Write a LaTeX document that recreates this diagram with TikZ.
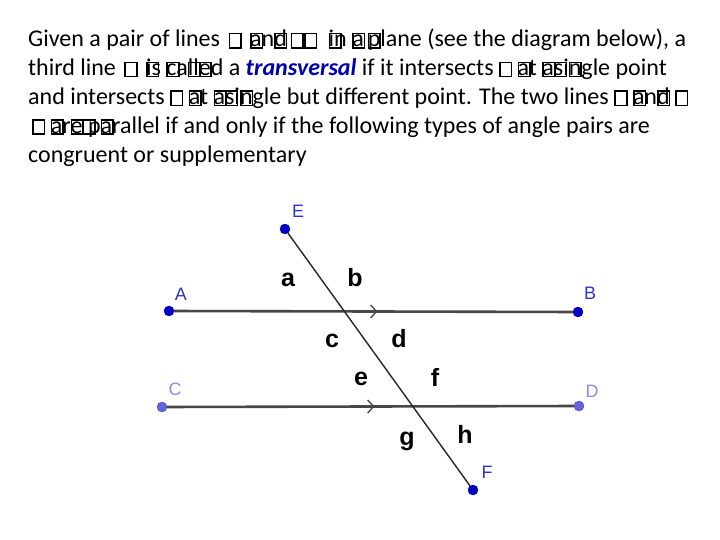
\documentclass[tikz,border=0pt]{standalone}
\usepackage{fontspec}
\setmainfont{Carlito}
\newfontfamily\geofont{Liberation Sans}
\usetikzlibrary{positioning,decorations.markings,arrows.meta}

\definecolor{ptblue}{RGB}{0,0,200}
\definecolor{ptlight}{RGB}{100,100,225}
\definecolor{lblblue}{RGB}{50,50,205}
\definecolor{lbllight}{RGB}{140,140,230}
\definecolor{linegray}{RGB}{70,70,70}
\definecolor{transblue}{RGB}{0,0,175}

% missing-glyph boxes of the text
\newcommand\gbox{\begingroup\setlength\fboxsep{0pt}\setlength\fboxrule{1.6bp}%
  \fbox{\rule{0pt}{12.5bp}\hspace{10bp}}\endgroup}
\newcommand\gbs{\gbox}
\newcommand\gbo{\rlap{\gbox}}

\tikzset{
  txt/.style={anchor=base west, inner sep=0pt, font=\fontsize{24bp}{28.8bp}\selectfont},
  pt/.style={circle, fill=ptblue, draw=ptblue!70!black, line width=0.4bp, inner sep=0pt, minimum size=10bp},
  ptpale/.style={pt, fill=ptlight, draw=ptlight!70!black},
  ptlbl/.style={inner sep=0pt, text=lblblue, font=\geofont\fontsize{18bp}{18bp}\selectfont},
  ptlblpale/.style={ptlbl, text=lbllight},
  anglbl/.style={anchor=base, inner sep=0pt, font=\geofont\bfseries\fontsize{25bp}{25bp}\selectfont},
  parline/.style={draw=linegray, line width=2.6bp,
    decoration={markings, mark=at position 0.51 with {\arrow{Straight Barb[length=6bp,width=13bp,line width=1.3bp]}}},
    postaction={decorate}},
  transline/.style={draw=black!85, line width=1.4bp}
}

\begin{document}
\begin{tikzpicture}[x=1bp, y=-1bp]
  \useasboundingbox (0,0) rectangle (720,540);

  % text
  \node[txt] (l1) at (28,47) {Given a pair of lines \hspace{3bp}\gbs\hspace{3bp} \gbo an\gbo d\,\gbs\gbs\hspace{6bp} \gbo in \gbo a\,\gbo plane (see the diagram below), a};
  \node[txt, below=28.8bp of l1.base west, anchor=base west] (l2) {third line \hspace{3bp}\gbs\hspace{3bp} \gbo is \gbo ca\gbo ll\gbo ed a {\color{transblue}\bfseries\itshape transversal} if it intersects \gbs\ \gbo at \gbo a\gbo si\gbo ngle point};
  \node[txt, below=28.8bp of l2.base west, anchor=base west] (l3) {and intersects \gbs\ \gbo at \gbo a\gbo si\gbo ngle but different point. The two lines \gbs\ \gbo an\gbo d\ \gbs};
  \node[txt, below=28.8bp of l3.base west, anchor=base west] (l4) {\hspace{4bp}\gbs\ \gbo ar\gbo e\gbo\ p\gbo arallel if and only if the following types of angle pairs are};
  \node[txt, below=28.8bp of l4.base west, anchor=base west] (l5) {congruent or supplementary};

  % points
  \node[pt] (E) at (285,229) {};
  \node[pt] (A) at (169,311) {};
  \node[pt] (B) at (578,312) {};
  \node[ptpale] (C) at (162,407) {};
  \node[ptpale] (D) at (579,406) {};
  \node[pt] (F) at (473,490) {};

  \node[ptlbl] (E-lbl) at (298,211) {E};
  \node[ptlbl] (A-lbl) at (181,294) {A};
  \node[ptlbl] (B-lbl) at (590,293) {B};
  \node[ptlblpale] (C-lbl) at (175,389) {C};
  \node[ptlblpale] (D-lbl) at (592,391) {D};
  \node[ptlbl] (F-lbl) at (487,472) {F};

  % lines
  \draw[parline] (A) -- (B);
  \draw[parline] (C) -- (D);
  \draw[transline] (E) -- (F);

  % angles
  \node[anglbl] (ang-a) at (288,287) {a};
  \node[anglbl] (ang-b) at (355,287) {b};
  \node[anglbl] (ang-c) at (332,347) {c};
  \node[anglbl] (ang-d) at (399,347) {d};
  \node[anglbl] (ang-e) at (361,385) {e};
  \node[anglbl] (ang-f) at (435,386) {f};
  \node[anglbl] (ang-g) at (407,445) {g};
  \node[anglbl] (ang-h) at (465,443) {h};
\end{tikzpicture}
\end{document}
